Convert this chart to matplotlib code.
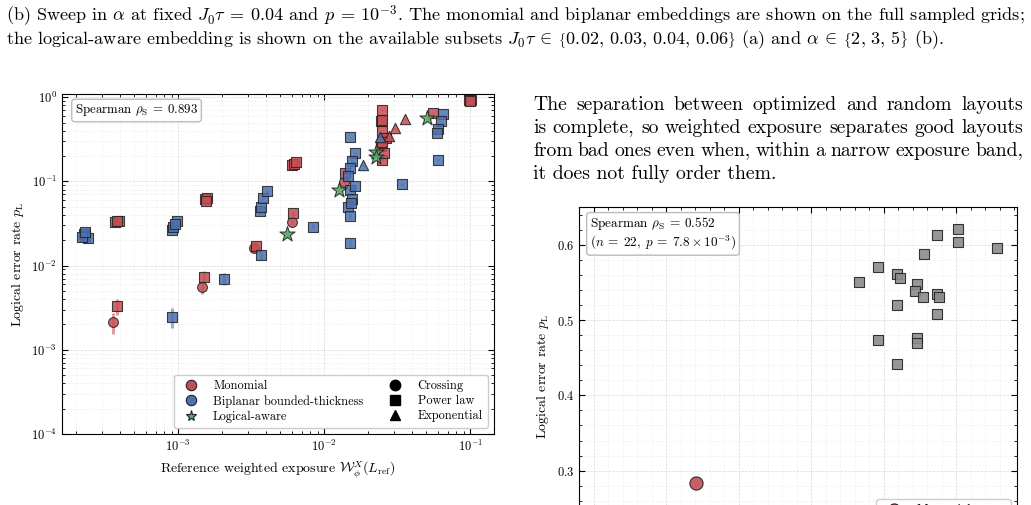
import numpy as np
import matplotlib
matplotlib.use("Agg")
from matplotlib import pyplot as plt
from matplotlib.lines import Line2D
from matplotlib.ticker import LogLocator, MultipleLocator, FixedLocator, NullFormatter

plt.rcParams["font.family"] = "serif"
plt.rcParams["font.serif"] = ["cmr10"]
plt.rcParams["mathtext.fontset"] = "cm"
plt.rcParams["axes.formatter.use_mathtext"] = True

RED = "#C44E52"
BLUE = "#4C72B0"
GREEN = "#55A868"
GRAY = "#8c8c8c"
SHOTS = 6000  # samples per point, sets the binomial error bars

# ---- panel (a): weighted exposure vs logical error rate ----
mono_cross_x = [3.6e-4, 1.46e-3, 3.3e-3, 6.0e-3, 1.36e-2]
mono_cross_y = [2.15e-3, 5.6e-3, 1.63e-2, 3.25e-2, 9.7e-2]

mono_power_x = [3.8e-4, 3.7e-4, 3.9e-4, 3.8e-4, 1.5e-3, 1.53e-3, 1.58e-3, 1.55e-3,
                3.4e-3, 6.1e-3, 6.0e-3, 6.2e-3, 6.35e-3, 1.38e-2,
                2.47e-2, 2.43e-2, 2.5e-2, 2.47e-2, 2.63e-2, 2.43e-2, 2.5e-2, 2.47e-2, 2.55e-2,
                5.58e-2, 9.84e-2, 1.01e-1, 1.0e-1]
mono_power_y = [3.3e-3, 3.3e-2, 3.4e-2, 3.35e-2, 7.4e-3, 6.1e-2, 6.3e-2, 5.8e-2,
                1.73e-2, 4.16e-2, 1.55e-1, 1.62e-1, 1.68e-1, 1.24e-1,
                0.70, 0.518, 0.54, 0.394, 0.325, 0.261, 0.29, 0.178, 0.22,
                0.645, 0.92, 0.93, 0.90]

mono_exp_x = [2.75e-2, 3.03e-2, 3.55e-2]
mono_exp_y = [0.343, 0.428, 0.547]

bip_power_x = [2.25e-4, 2.3e-4, 2.4e-4, 2.2e-4, 2.3e-4, 9.1e-4, 9.2e-4, 9.8e-4, 9.5e-4,
               9.1e-4, 2.06e-3, 3.63e-3, 3.68e-3, 3.8e-3, 4.06e-3, 3.7e-3, 8.35e-3,
               1.49e-2, 1.49e-2, 1.61e-2, 1.54e-2, 1.5e-2, 1.46e-2, 1.49e-2, 1.61e-2,
               1.55e-2, 1.46e-2, 1.49e-2, 1.52e-2, 3.38e-2,
               6.54e-2, 6.24e-2, 6.04e-2, 5.94e-2, 6.04e-2]
bip_power_y = [2.4e-2, 2.25e-2, 2.1e-2, 2.2e-2, 2.5e-2, 2.68e-2, 2.85e-2, 3.34e-2, 3.1e-2,
               2.47e-3, 7.0e-3, 4.4e-2, 5.0e-2, 6.28e-2, 7.6e-2, 1.32e-2, 2.9e-2,
               1.83e-2, 0.334, 0.215, 0.173, 0.143, 0.115, 8.0e-2, 8.7e-2,
               6.1e-2, 4.9e-2, 3.83e-2, 5.5e-2, 9.2e-2,
               0.628, 0.518, 0.416, 0.372, 0.178]

bip_exp_x = [1.83e-2, 2.4e-2]
bip_exp_y = [0.155, 0.34]

aware_x = [5.55e-3, 1.256e-2, 2.25e-2, 2.25e-2, 5.08e-2]
aware_y = [2.34e-2, 8.0e-2, 0.221, 0.193, 0.562]

# ---- panel (b): random layouts vs monomial ----
rand_x = [2.83, 2.96, 3.09, 3.11, 3.09, 2.96, 3.23, 3.22, 3.27, 3.28,
          3.23, 3.23, 3.37, 3.37, 3.38, 3.37, 3.51, 3.51, 3.78, 3.09]
rand_y = [0.551, 0.571, 0.561, 0.556, 0.520, 0.474, 0.548, 0.539, 0.531, 0.588,
          0.476, 0.470, 0.613, 0.535, 0.531, 0.508, 0.621, 0.604, 0.596, 0.442]
mono_b_x = [1.71]
mono_b_y = [0.284]
b_yticks = [0.3, 0.4, 0.5, 0.6]

PARAGRAPH = ["The separation between optimized and random layouts",
             "is complete, so weighted exposure separates good layouts",
             "from bad ones even when, within a narrow exposure band,",
             "it does not fully order them."]


def binom_err(p):
    p = np.asarray(p)
    return np.sqrt(p * (1 - p) / SHOTS)


def draw(ax, x, y, color, marker, size):
    ax.errorbar(x, y, yerr=binom_err(y), fmt="none", ecolor=color, elinewidth=2.2,
                alpha=0.55, zorder=2)
    ax.scatter(x, y, s=size, marker=marker, color=color, edgecolor="#222222",
               linewidth=0.8, alpha=0.85, zorder=3)


def style_axes(ax):
    ax.tick_params(which="both", direction="in", top=True, right=True, labelsize=9)
    ax.tick_params(which="major", length=4)
    ax.tick_params(which="minor", length=2)
    ax.grid(True, which="major", color="#d8d8d8", linestyle="--", linewidth=0.5)
    ax.grid(True, which="minor", color="#ececec", linestyle="--", linewidth=0.4)
    ax.set_axisbelow(True)


def justified(fig, line, x0, x1, y, size):
    # spread the words of one line across [x0, x1] (pixels)
    renderer = fig.canvas.get_renderer()
    words = line.split()
    texts = [fig.text(0, y, w, fontsize=size, va="baseline", ha="left") for w in words]
    widths = [t.get_window_extent(renderer).width for t in texts]
    gap = (x1 - x0 - sum(widths)) / (len(words) - 1)
    x = x0
    for t, w in zip(texts, widths):
        t.set_x(x / 1031)
        x += w + gap


fig = plt.figure(figsize=(10.31, 5.05), dpi=100)

# caption text
CAP = 13.1
fig.text(0.006, 1 - 22 / 505,
         r"(b) Sweep in $\alpha$ at fixed $J_0\tau\:=\:0.04$ and $p\:=\:10^{-3}$. The monomial "
         r"and biplanar embeddings are shown on the full sampled grids;",
         fontsize=CAP, va="baseline", ha="left")
fig.text(0.006, 1 - 44 / 505,
         r"the logical-aware embedding is shown on the available subsets "
         r"$J_0\tau\:\in\:\left\{0.02,\,0.03,\,0.04,\,0.06\right\}$ (a) and "
         r"$\alpha\:\in\:\left\{2,\,3,\,5\right\}$ (b).",
         fontsize=CAP, va="baseline", ha="left")

for i, line in enumerate(PARAGRAPH):
    yb = 1 - (110 + 23 * i) / 505
    if i < len(PARAGRAPH) - 1:
        justified(fig, line, 533, 1023, yb, 14.2)
    else:
        fig.text(533 / 1031, yb, line, fontsize=14.2, va="baseline", ha="left")

# left panel
ax1 = fig.add_axes([62 / 1031, 1 - 434 / 505, 432 / 1031, 340 / 505])
draw(ax1, mono_cross_x, mono_cross_y, RED, "o", 50)
draw(ax1, mono_power_x, mono_power_y, RED, "s", 50)
draw(ax1, mono_exp_x, mono_exp_y, RED, "^", 55)
draw(ax1, bip_power_x, bip_power_y, BLUE, "s", 50)
draw(ax1, bip_exp_x, bip_exp_y, BLUE, "^", 55)
draw(ax1, aware_x, aware_y, GREEN, "*", 130)

ax1.set_xscale("log")
ax1.set_yscale("log")
ax1.set_xlim(1.6e-4, 0.145)
ax1.set_ylim(1e-4, 1.09)
ax1.xaxis.set_minor_locator(LogLocator(base=10, subs=np.arange(2, 10)))
ax1.yaxis.set_minor_locator(LogLocator(base=10, subs=np.arange(2, 10)))
ax1.xaxis.set_minor_formatter(NullFormatter())
ax1.yaxis.set_minor_formatter(NullFormatter())
style_axes(ax1)
ax1.set_xlabel(r"Reference weighted exposure $\mathcal{W}_{\phi}^{X}(L_{\mathrm{ref}})$",
               fontsize=10)
ax1.set_ylabel(r"Logical error rate $p_{\mathrm{L}}$", fontsize=10)
ax1.text(0.03, 0.975, r"Spearman $\rho_{\mathrm{S}}\:=\:0.893$", transform=ax1.transAxes,
         fontsize=9.3, va="top", ha="left",
         bbox=dict(boxstyle="round,pad=0.25", fc="white", ec="#bbbbbb", lw=1))

handles = [
    Line2D([], [], ls="", marker="o", ms=7.5, mfc=RED, mec="#222222", mew=0.8),
    Line2D([], [], ls="", marker="o", ms=7.5, mfc=BLUE, mec="#222222", mew=0.8),
    Line2D([], [], ls="", marker="*", ms=8, mfc=GREEN, mec="#222222", mew=0.8),
    Line2D([], [], ls="", marker="o", ms=7.5, color="black"),
    Line2D([], [], ls="", marker="s", ms=7, color="black"),
    Line2D([], [], ls="", marker="^", ms=7.5, color="black"),
]
labels = ["Monomial", "Biplanar bounded-thickness", "Logical-aware",
          "Crossing", "Power law", "Exponential"]
ax1.legend(handles, labels, ncol=2, loc="lower right", fontsize=8.9,
           frameon=True, fancybox=True, edgecolor="#cccccc", framealpha=1,
           handletextpad=0.8, columnspacing=1.6, borderpad=0.4, labelspacing=0.25)

# right panel (runs off the bottom of the page)
ax2 = fig.add_axes([579 / 1031, 1 - 546 / 505, 438 / 1031, 339 / 505])
ax2.scatter(rand_x, rand_y, s=42, marker="s", color=GRAY, edgecolor="#222222",
            linewidth=0.8, alpha=0.9, zorder=3)
ax2.scatter(mono_b_x, mono_b_y, s=90, marker="o", color=RED, edgecolor="#222222",
            linewidth=0.8, alpha=0.9, zorder=3)
ax2.set_xlim(0.9, 3.92)
ax2.set_ylim(0.2, 0.65)
ax2.xaxis.set_major_locator(MultipleLocator(0.5))
ax2.xaxis.set_minor_locator(MultipleLocator(0.1))
ax2.yaxis.set_major_locator(FixedLocator(b_yticks))
ax2.yaxis.set_minor_locator(MultipleLocator(0.02))
style_axes(ax2)
ax2.tick_params(labelbottom=False)
ax2.set_ylabel(r"Logical error rate $p_{\mathrm{L}}$", fontsize=10)
ax2.text(0.025, 0.975, "Spearman $\\rho_{\\mathrm{S}}\\:=\\:0.552$\n"
         "$(n\\:=\\:22,\\; p\\:=\\:7.8 \\times 10^{-3})$", transform=ax2.transAxes,
         fontsize=9.5, va="top", ha="left", linespacing=1.1,
         bbox=dict(boxstyle="round,pad=0.25", fc="white", ec="#bbbbbb", lw=1))
h2 = [Line2D([], [], ls="", marker="o", ms=8, mfc=RED, mec="#222222", mew=0.8),
      Line2D([], [], ls="", marker="s", ms=7, mfc=GRAY, mec="#222222", mew=0.8)]
ax2.legend(h2, ["Monomial", "Random layouts"], loc="upper right",
           bbox_to_anchor=(0.986, 0.1386), borderaxespad=0,
           fontsize=9, frameon=True, edgecolor="#cccccc", framealpha=1)

fig.savefig("out.png", dpi=100)
